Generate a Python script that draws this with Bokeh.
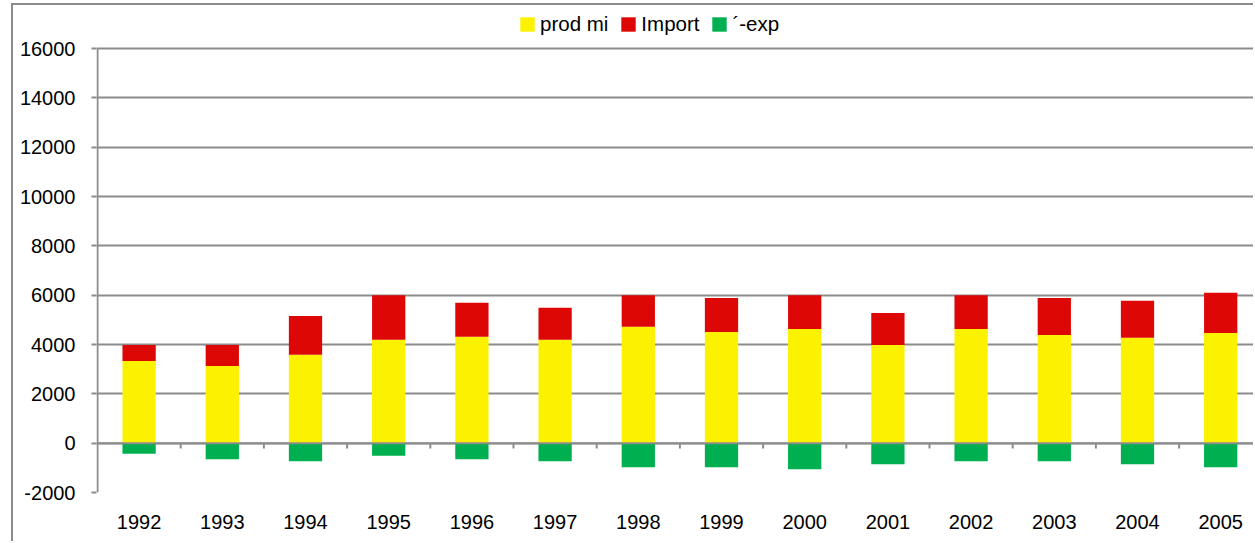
from bokeh.plotting import figure
from bokeh.models import Legend, LegendItem, Span, FixedTicker, ColumnDataSource
from bokeh.embed import file_html
from bokeh.resources import INLINE

years = ["1992", "1993", "1994", "1995", "1996", "1997", "1998",
         "1999", "2000", "2001", "2002", "2003", "2004", "2005"]
prod_mi = [3330, 3130, 3580, 4190, 4310, 4190, 4720, 4510, 4630, 3980, 4630, 4390, 4270, 4470]
import_ = [650, 850, 1580, 1810, 1380, 1300, 1280, 1380, 1370, 1300, 1370, 1500, 1500, 1630]
exp_ = [-430, -650, -730, -515, -650, -730, -975, -975, -1057, -850, -730, -730, -850, -975]
y_ticks = [-2000, 0, 2000, 4000, 6000, 8000, 10000, 12000, 14000, 16000]
y_labels = ["-2000", "0", "2000", "4000", "6000", "8000", "10000", "12000", "14000", "16000"]

YELLOW = "#FCF200"
RED = "#DD0806"
GREEN = "#00B050"
GRID = "#8C8C8C"
FONT = "Liberation Sans"

x = list(range(len(years)))
src = ColumnDataSource(dict(x=x, prod=prod_mi, imp=import_, exp=exp_,
                            top_imp=[a + b for a, b in zip(prod_mi, import_)]))

CAT_PX = 83.2            # pixels per category
FRAME_W, FRAME_H = 1159, 487
PLOT_PX = 444            # pixels from -2000 to 16000
y_lo, y_hi = y_ticks[0], y_ticks[-1]
y_end = y_hi + (FRAME_H - PLOT_PX) * (y_hi - y_lo) / PLOT_PX
x_start = -0.5 - 1 / CAT_PX

p = figure(width=1242, height=538, output_backend="svg", toolbar_location=None,
           x_range=(x_start, x_start + FRAME_W / CAT_PX), y_range=(y_lo, y_end),
           min_border_left=83, min_border_right=0, min_border_top=0, min_border_bottom=51)
p.outline_line_color = None
p.background_fill_color = "white"
p.border_fill_color = "white"

r_prod = p.vbar(x="x", bottom=0, top="prod", width=0.4, source=src,
                fill_color=YELLOW, line_color=None)
r_imp = p.vbar(x="x", bottom="prod", top="top_imp", width=0.4, source=src,
               fill_color=RED, line_color=None)
r_exp = p.vbar(x="x", bottom=0, top="exp", width=0.4, source=src,
               fill_color=GREEN, line_color=None)

# value-axis line (from -2000 to 16000 only)
p.segment(x0=[-0.5], y0=[y_lo], x1=[-0.5], y1=[y_hi], line_color=GRID, line_width=2)

# zero line with category-boundary tick marks
p.add_layout(Span(location=0, dimension="width", line_color=GRID, line_width=2))
bx = [i + 0.5 for i in x[:-1]]
p.segment(x0=bx, y0=[0] * len(bx), x1=bx, y1=[-220] * len(bx), line_color=GRID, line_width=2)

# axes
p.yaxis.ticker = FixedTicker(ticks=y_ticks)
p.yaxis.major_label_overrides = dict(zip(y_ticks, y_labels))
p.yaxis.axis_line_color = None
p.yaxis.major_tick_line_color = GRID
p.yaxis.major_tick_line_width = 2
p.yaxis.major_tick_out = 5
p.yaxis.major_tick_in = 0
p.yaxis.minor_tick_line_color = None
p.yaxis.major_label_standoff = 16
p.yaxis.major_label_text_font = FONT
p.yaxis.major_label_text_font_size = "20px"
p.yaxis.major_label_text_color = "black"

p.xaxis.ticker = FixedTicker(ticks=x)
p.xaxis.major_label_overrides = {i: y for i, y in enumerate(years)}
p.xaxis.axis_line_color = None
p.xaxis.major_tick_line_color = None
p.xaxis.minor_tick_line_color = None
p.xaxis.major_label_standoff = 16
p.xaxis.major_label_text_font = FONT
p.xaxis.major_label_text_font_size = "20px"
p.xaxis.major_label_text_color = "black"

p.xgrid.grid_line_color = None
p.ygrid.ticker = FixedTicker(ticks=y_ticks)
p.ygrid.grid_line_color = GRID
p.ygrid.grid_line_width = 2

legend = Legend(items=[LegendItem(label="prod mi", renderers=[r_prod]),
                       LegendItem(label="Import", renderers=[r_imp]),
                       LegendItem(label="´-exp", renderers=[r_exp])],
                orientation="horizontal", location=(422, FRAME_H - 31),
                label_text_font=FONT, label_text_font_size="20.5px",
                label_text_color="black",
                glyph_width=18, glyph_height=18, label_standoff=4, spacing=11,
                padding=2, margin=0, border_line_color=None,
                background_fill_alpha=0)
p.add_layout(legend)

p.styles = {"border-left": "2px solid #8C8C8C", "border-top": "2px solid #8C8C8C",
            "margin-left": "11px", "margin-top": "3px"}

open("out.html", "w").write(file_html(p, INLINE))
